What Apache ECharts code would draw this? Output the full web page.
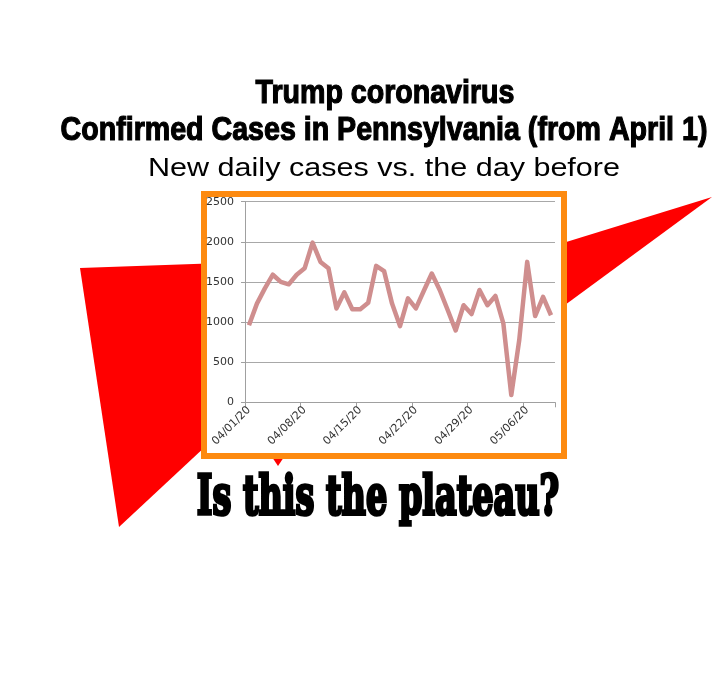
<!DOCTYPE html>
<html>
<head>
<meta charset="utf-8">
<script src="https://cdn.jsdelivr.net/npm/echarts@6/dist/echarts.min.js"></script>
<style>
html,body{margin:0;padding:0;background:#fff;}
#c{width:722px;height:681px;}
</style>
</head>
<body>
<div id="c"></div>
<script>
// ---- data ----
var dates = [
  "04/01/20","04/02/20","04/03/20","04/04/20","04/05/20","04/06/20","04/07/20",
  "04/08/20","04/09/20","04/10/20","04/11/20","04/12/20","04/13/20","04/14/20",
  "04/15/20","04/16/20","04/17/20","04/18/20","04/19/20","04/20/20","04/21/20",
  "04/22/20","04/23/20","04/24/20","04/25/20","04/26/20","04/27/20","04/28/20",
  "04/29/20","04/30/20","05/01/20","05/02/20","05/03/20","05/04/20","05/05/20",
  "05/06/20","05/07/20","05/08/20","05/09/20"
];
var newCases = [
  960, 1230, 1420, 1590, 1500, 1470, 1590,
  1670, 1990, 1750, 1670, 1170, 1370, 1160,
  1160, 1240, 1700, 1635, 1230, 950, 1295,
  1170, 1390, 1605, 1400, 1150, 895, 1210,
  1100, 1400, 1210, 1325, 985, 90, 775,
  1750, 1075, 1315, 1085
];
var yTicks = [0, 500, 1000, 1500, 2000, 2500];

var titleLine1 = "Trump coronavirus";
var titleLine2 = "Confirmed Cases in Pennsylvania (from April 1)";
var subtitle = "New daily cases vs. the day before";
var caption = "Is this the plateau?";

// ---- helpers ----
var mctx = document.createElement('canvas').getContext('2d');
function fitScale(text, font, target) {
  mctx.font = font;
  var w = mctx.measureText(text).width;
  return w > 0 ? target / w : 1;
}
function fittedText(text, font, cx, cy, width, z, strokeW) {
  var st = {
    text: text, x: 0, y: 0, font: font, fill: '#000',
    textAlign: 'center', textVerticalAlign: 'middle'
  };
  if (strokeW) { st.stroke = '#000'; st.lineWidth = strokeW; }
  return {
    type: 'text',
    x: cx, y: cy,
    scaleX: fitScale(text, font, width - (strokeW || 0)),
    z: z,
    style: st
  };
}

var fTitle = "bold 33px 'Liberation Sans Narrow', 'Liberation Sans', Arial, sans-serif";
var fSub = "25px 'Liberation Sans', Arial, sans-serif";
var fCap = "bold 54px 'DejaVu Serif', 'Liberation Serif', serif";

var chart = echarts.init(document.getElementById('c'), null, {renderer: 'canvas'});
chart.setOption({
  backgroundColor: '#ffffff',
  animation: false,
  graphic: {
    elements: [
      { type: 'polygon', z: -3, shape: { points: [[80,268],[222,263],[222,431],[119,527]] }, style: { fill: '#ff0000' } },
      { type: 'polygon', z: -3, shape: { points: [[272,457],[284,457],[278,466]] }, style: { fill: '#ff0000' } },
      { type: 'polygon', z: -3, shape: { points: [[550,247],[712,197],[550,316]] }, style: { fill: '#ff0000' } },
      { type: 'rect', z: -2, shape: { x: 204, y: 194, width: 360, height: 262 },
        style: { fill: '#ffffff', stroke: '#fd8a10', lineWidth: 6 } },
      fittedText(titleLine1, fTitle, 385, 93.5, 260, 10, 1.2),
      fittedText(titleLine2, fTitle, 384, 130.5, 648, 10, 1.2),
      fittedText(subtitle, fSub, 384, 168.7, 472, 10, 0),
      fittedText(caption, fCap, 378, 500, 366, 10, 3.5)
    ]
  },
  grid: { left: 245, right: 167, top: 201.7, bottom: 278.7, containLabel: false },
  xAxis: {
    type: 'category',
    data: dates,
    boundaryGap: true,
    axisLine: { show: true, lineStyle: { color: '#a0a0a0', width: 1 } },
    axisTick: { show: true, interval: 6, length: 5, alignWithLabel: false, lineStyle: { color: '#a0a0a0' } },
    axisLabel: {
      interval: 6, rotate: 45, margin: 6,
      color: '#333', fontFamily: 'DejaVu Sans', fontSize: 11
    },
    splitLine: { show: false }
  },
  yAxis: {
    type: 'value',
    min: yTicks[0], max: yTicks[yTicks.length - 1], interval: 500,
    axisLine: { show: true, lineStyle: { color: '#a0a0a0', width: 1 } },
    axisTick: { show: true, length: 4, lineStyle: { color: '#a0a0a0' } },
    axisLabel: { color: '#333', fontFamily: 'DejaVu Sans', fontSize: 11, margin: 11,
      formatter: function (v) { return String(v); } },
    splitLine: { show: true, lineStyle: { color: '#a8a8a8', width: 1 } }
  },
  series: [{
    type: 'line',
    data: newCases,
    showSymbol: false,
    symbol: 'none',
    smooth: false,
    lineStyle: { color: '#cf8e8e', width: 4.5, join: 'round' },
    z: 3
  }]
});
</script>
</body>
</html>
